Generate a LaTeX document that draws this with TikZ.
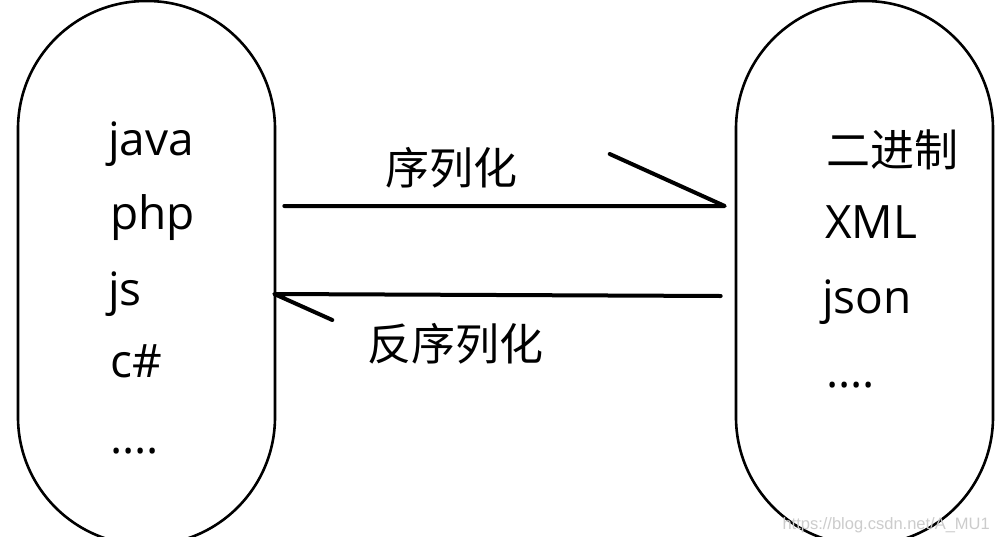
\documentclass[tikz,border=0pt]{standalone}
\usepackage{fontspec}
\setmainfont{Open Sans}
\newfontfamily\cjk{Noto Sans CJK SC}
\newfontfamily\wm{Liberation Sans}
\begin{document}
\begin{tikzpicture}[x=1pt,y=-1pt,
  pill/.style={draw, line width=2.6pt, rounded corners=128pt, minimum width=257pt, minimum height=544pt, inner sep=0pt},
  flow/.style={line width=4pt, line cap=round, line join=round},
  lat/.style={anchor=base west, inner sep=0pt, font=\fontsize{46}{50}\selectfont},
  zh/.style={anchor=center, inner sep=0pt, font=\cjk\fontsize{44}{48}\selectfont}]
\clip (0,0) rectangle (996,536);
\fill[white] (0,0) rectangle (996,536);
% containers
\node[pill] (L) at (146.5,273) {};
\node[pill] (R) at (864.5,273) {};
% left items
\node[lat] (java) at (108,155) {java};
\node[lat] (php) at (110,229) {php};
\node[lat] (js) at (108,305) {js};
\node[lat] (cs) at (110,377) {c\#};
\node[lat] (ldots) at (110,453) {....};
% right items
\node[zh] (bin) at (892,150) {二进制};
\node[lat] (xml) at (825,238) {XML};
\node[lat] (json) at (822,313) {json};
\node[lat] (rdots) at (826,387) {....};
% labels
\node[zh] (ser) at (451,168) {序列化};
\node[zh] (deser) at (455,344) {反序列化};
% connectors
\path (L.east) ++(8,-67) coordinate (a1);
\path (R.west) ++(-10,-67) coordinate (a2);
\path (R.west) ++(-14,23) coordinate (b1);
\path (L.east) ++(-2,21) coordinate (b2);
\draw[flow] (a1) -- (a2) -- ++(-115,-52);
\draw[flow] (b1) -- (b2) -- ++(58,26);
% watermark
\node[anchor=base east, inner sep=0pt, text=gray!40, font=\wm\fontsize{16.5}{19}\selectfont] (wmk) at (990,529) {https://blog.csdn.net/A\_MU1};
\end{tikzpicture}
\end{document}
